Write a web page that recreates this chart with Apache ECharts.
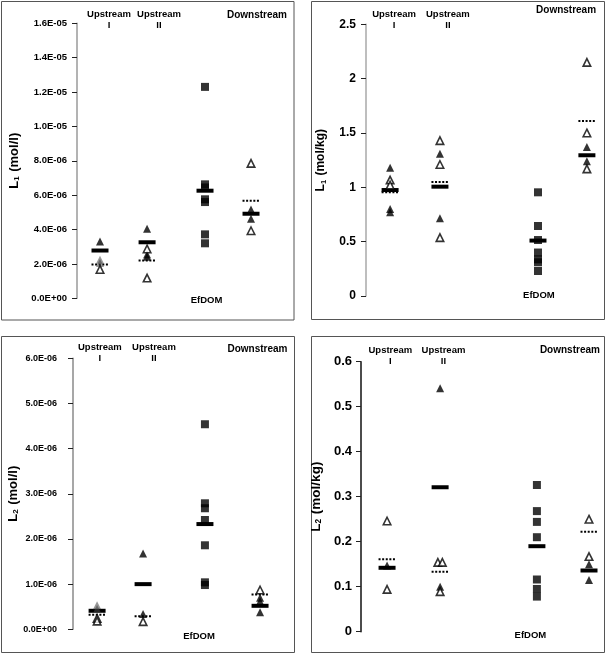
<!DOCTYPE html>
<html><head><meta charset="utf-8">
<script src="https://cdn.jsdelivr.net/npm/echarts@6/dist/echarts.min.js"></script>
<style>html,body{margin:0;padding:0;background:#fff}#c{width:606px;height:655px}</style>
</head><body><div id="c"></div>
<script>
// ---------------- DATA ----------------
const groups = ['Upstream I', 'Upstream II', 'EfDOM', 'Downstream'];

// Panel A: L1 (mol/l)
const aFilled = [[3.3e-6], [4.05e-6, 2.55e-6, 2.42e-6], [], [5.17e-6, 4.63e-6]];
const aGray   = [[2.25e-6, 2.05e-6], [], [], []];
const aOpen   = [[1.68e-6], [2.87e-6, 1.18e-6], [], [7.85e-6, 3.93e-6]];
const aSquare = [[], [], [12.3e-6, 6.63e-6, 6.45e-6, 5.76e-6, 5.6e-6, 3.72e-6, 3.2e-6], []];
const aSolid  = [2.78e-6, 3.26e-6, 6.26e-6, 4.92e-6];
const aDotted = [1.97e-6, 2.2e-6, null, 5.68e-6];
const aTicks  = ['0.0E+00', '2.0E-06', '4.0E-06', '6.0E-06', '8.0E-06', '1.0E-05', '1.2E-05', '1.4E-05', '1.6E-05'];

// Panel B: L1 (mol/kg)
const bFilled = [[1.18, 0.80, 0.77], [1.31, 0.715], [], [1.37, 1.24]];
const bGray   = [[], [], [], []];
const bOpen   = [[1.067, 1.02], [1.43, 1.21, 0.537], [], [2.15, 1.50, 1.17]];
const bSquare = [[], [], [0.954, 0.644, 0.515, 0.40, 0.337, 0.31, 0.23], []];
const bSolid  = [0.975, 1.006, 0.51, 1.295];
const bDotted = [0.955, 1.05, null, 1.61];
const bTicks  = ['0', '0.5', '1', '1.5', '2', '2.5'];

// Panel C: L2 (mol/l)
const cFilled = [[], [1.68e-6, 0.34e-6], [], [0.70e-6, 0.62e-6, 0.38e-6]];
const cGray   = [[0.53e-6, 0.45e-6], [], [], []];
const cOpen   = [[0.24e-6, 0.18e-6], [0.17e-6], [], [0.87e-6]];
const cSquare = [[], [], [4.54e-6, 2.79e-6, 2.68e-6, 2.42e-6, 1.86e-6, 1.04e-6, 0.98e-6], []];
const cSolid  = [0.41e-6, 1.0e-6, 2.33e-6, 0.52e-6];
const cDotted = [0.32e-6, 0.29e-6, null, 0.77e-6];
const cTicks  = ['0.0E+00', '1.0E-06', '2.0E-06', '3.0E-06', '4.0E-06', '5.0E-06', '6.0E-06'];

// Panel D: L2 (mol/kg)
const dFilled = [[0.147], [0.541, 0.10], [], [0.15, 0.115]];
const dGray   = [[], [], [], []];
const dOpen   = [[0.246, 0.094], [0.154, 0.154, 0.089], [], [0.25, 0.167]];
const dSquare = [[], [], [0.326, 0.268, 0.244, 0.21, 0.116, 0.095, 0.078], []];
const dSolid  = [0.142, 0.321, 0.19, 0.136];
const dDotted = [0.161, 0.133, null, 0.222];
const dTicks  = ['0', '0.1', '0.2', '0.3', '0.4', '0.5', '0.6'];

// ---------------- LAYOUT ----------------
const FONT = '"Liberation Sans", Arial, Helvetica, sans-serif';
const panels = [
  { d: [aFilled, aGray, aOpen, aSquare, aSolid, aDotted], ticks: aTicks, max: 1.6e-5, interval: 2e-6,
    name: 'L{s|1} (mol/l)', nameSize: 13, nameGap: 56, tickSize: 9.5, tickMargin: 10, axisColor: '#9a9a9a',
    left: 77, width: 213, top: 23.3, height: 275,
    xs: [1.08, 3.29, 6.01, 8.17], labX: [1.50, 3.85, 8.45, 6.08], upOff: 3.8, dnOff: 8.3, efOff: 1.7,
    border: [1.5, 1.5, 292.5, 318.5] },
  { d: [bFilled, bGray, bOpen, bSquare, bSolid, bDotted], ticks: bTicks, max: 2.5, interval: 0.5,
    name: 'L{s|1} (mol/kg)', nameSize: 12, nameGap: 39, tickSize: 12, tickMargin: 10, axisColor: '#a8a8a8',
    left: 366, width: 234, top: 24.3, height: 271.7,
    xs: [1.03, 3.16, 7.35, 9.44], labX: [1.20, 3.50, 8.55, 7.39], upOff: 4.3, dnOff: 14.3, efOff: -1,
    border: [311.5, 1.5, 293, 318] },
  { d: [cFilled, cGray, cOpen, cSquare, cSolid, cDotted], ticks: cTicks, max: 6e-6, interval: 1e-6,
    name: 'L{s|2} (mol/l)', nameSize: 13, nameGap: 53, tickSize: 9, tickMargin: 16, axisColor: '#8a8a8a',
    left: 73, width: 217, top: 358.3, height: 271,
    xs: [1.11, 3.23, 6.08, 8.62], labX: [1.24, 3.73, 8.50, 5.81], upOff: 5, dnOff: 9, efOff: 6.7,
    border: [1.5, 336.5, 293, 316] },
  { d: [dFilled, dGray, dOpen, dSquare, dSolid, dDotted], ticks: dTicks, max: 0.6, interval: 0.1,
    name: 'L{s|2} (mol/kg)', nameSize: 13.5, nameGap: 38, tickSize: 13, tickMargin: 9, axisColor: '#111',
    left: 361, width: 239, top: 361.7, height: 270,
    xs: [1.09, 3.31, 7.36, 9.54], labX: [1.23, 3.45, 8.74, 7.09], upOff: 5.5, dnOff: 11, efOff: 3.3,
    border: [311.5, 336.5, 293, 316] }
];

// ---------------- BUILD ----------------
const grid = [], xAxis = [], yAxis = [], series = [], graphic = [];

function pts(lists, xs) {
  const out = [];
  lists.forEach((vals, gi) => {
    vals.forEach((v, k) => {
      const same = vals.filter(w => w === v).length;
      const idx = vals.slice(0, k).filter(w => w === v).length;
      const item = { value: [xs[gi], v] };
      if (same > 1) item.symbolOffset = [(idx - (same - 1) / 2) * 4.5, 0];
      out.push(item);
    });
  });
  return out;
}

function barSeries(pi, vals, xs, dotted) {
  const data = [];
  vals.forEach((v, i) => { if (v != null) data.push([xs[i], v]); });
  return {
    type: 'custom', xAxisIndex: pi * 3, yAxisIndex: pi, data, silent: true, z: 2,
    renderItem: (params, api) => {
      const c = api.coord([api.value(0), api.value(1)]);
      const hw = 8.5;
      return {
        type: 'line',
        shape: { x1: c[0] - hw, y1: c[1], x2: c[0] + hw, y2: c[1] },
        style: dotted ? { stroke: '#000', lineWidth: 2, lineDash: [2, 1.6] } : { stroke: '#000', lineWidth: 4 }
      };
    }
  };
}

panels.forEach((p, pi) => {
  grid.push({ left: p.left, top: p.top, width: p.width, height: p.height, outerBoundsMode: 'none', containLabel: false });
  const baseX = { gridIndex: pi, type: 'value', min: 0, max: 10, axisLine: { show: false }, axisTick: { show: false }, splitLine: { show: false } };
  const lab = { margin: 0, verticalAlign: 'middle', align: 'center', color: '#000', fontFamily: FONT, fontWeight: 'bold', fontSize: 9.5, lineHeight: 11 };
  xAxis.push(Object.assign({}, baseX, { position: 'bottom', offset: p.efOff,
    axisLabel: Object.assign({}, lab, { customValues: [p.labX[3]], formatter: () => groups[2] }) }));
  xAxis.push(Object.assign({}, baseX, { position: 'top', offset: p.upOff,
    axisLabel: Object.assign({}, lab, { customValues: [p.labX[0], p.labX[1]],
      formatter: v => (Math.abs(v - p.labX[0]) < 1e-6 ? groups[0] : groups[1]).replace(' ', '\n') }) }));
  xAxis.push(Object.assign({}, baseX, { position: 'top', offset: p.dnOff,
    axisLabel: Object.assign({}, lab, { fontSize: 10, customValues: [p.labX[2]], formatter: () => groups[3] }) }));

  yAxis.push({
    gridIndex: pi, type: 'value', min: 0, max: p.max, interval: p.interval,
    axisLine: { show: true, lineStyle: { color: p.axisColor, width: 1.5 } },
    axisTick: { show: true, length: 5, lineStyle: { color: '#222', width: 1 } },
    splitLine: { show: false },
    axisLabel: { margin: p.tickMargin, fontSize: p.tickSize, fontWeight: 'bold', color: '#000', fontFamily: FONT,
      formatter: v => p.ticks[Math.round(v / p.interval)] },
    name: p.name, nameLocation: 'middle', nameGap: p.nameGap, nameRotate: 90, nameMoveOverlap: false,
    nameTextStyle: { fontSize: p.nameSize, fontWeight: 'bold', color: '#000', fontFamily: FONT,
      rich: { s: { fontSize: p.nameSize * 0.62, fontWeight: 'bold', fontFamily: FONT, color: '#000', verticalAlign: 'bottom', padding: [0, 1, 0, 0] } } }
  });

  const [filled, gray, open, square, solid, dotted] = p.d;
  series.push(barSeries(pi, solid, p.xs, false));
  series.push(barSeries(pi, dotted, p.xs, true));
  const sc = { type: 'scatter', xAxisIndex: pi * 3, yAxisIndex: pi, silent: true, z: 3, clip: false };
  series.push(Object.assign({}, sc, { data: pts(square, p.xs), symbol: 'rect', symbolSize: 8, itemStyle: { color: '#000' } }));
  series.push(Object.assign({}, sc, { data: pts(gray, p.xs), symbol: 'triangle', symbolSize: 8, itemStyle: { color: 'rgba(70,70,70,0.7)' } }));
  series.push(Object.assign({}, sc, { data: pts(filled, p.xs), symbol: 'triangle', symbolSize: 8, itemStyle: { color: '#000' } }));
  series.push(Object.assign({}, sc, { data: pts(open, p.xs), symbol: 'triangle', symbolSize: 7.5, itemStyle: { color: '#fff', borderColor: '#000', borderWidth: 1.6 } }));

  const b = p.border;
  graphic.push({ type: 'rect', shape: { x: b[0], y: b[1], width: b[2], height: b[3] }, style: { fill: null, stroke: '#555', lineWidth: 1 }, silent: true, z: -1 });
});

const chart = echarts.init(document.getElementById('c'), null, { renderer: 'canvas' });
chart.setOption({ animation: false, backgroundColor: '#fff', grid, xAxis, yAxis, series, graphic });
</script>
</body></html>
